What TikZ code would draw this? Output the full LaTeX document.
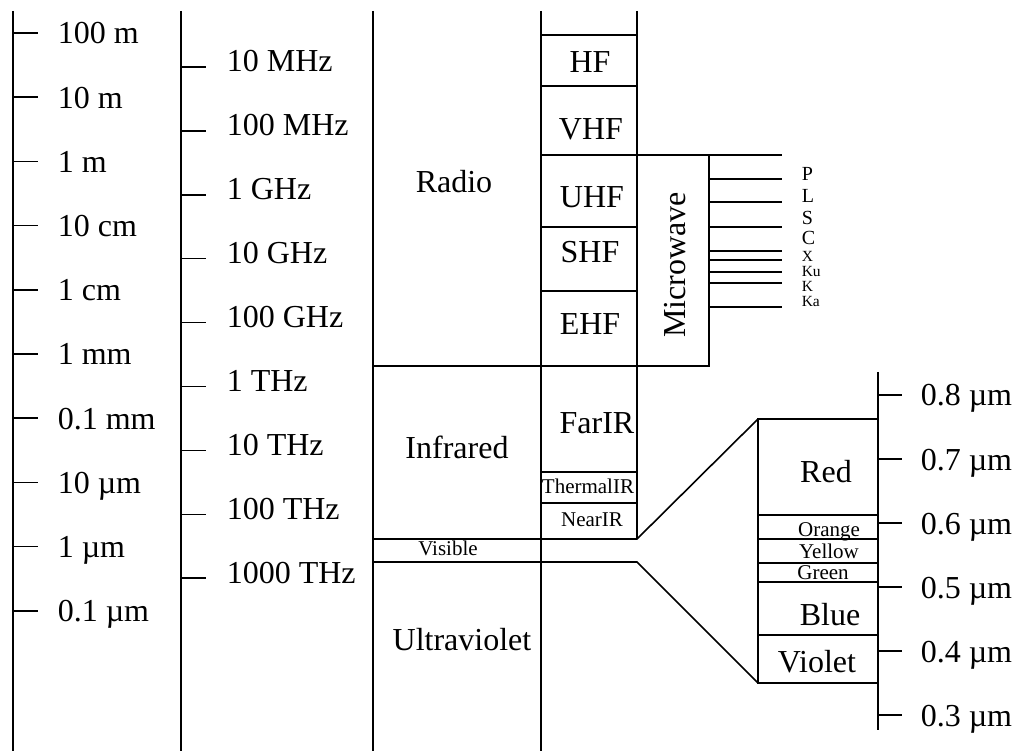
\documentclass[tikz,border=0pt]{standalone}
\usepackage{fontspec}
\setmainfont{Liberation Serif}
\begin{document}
\begin{tikzpicture}[
    x=1pt, y=-1pt, line width=1.6pt,
    big/.style={font=\fontsize{32}{36}\selectfont, inner sep=0pt, anchor=base},
    small/.style={font=\fontsize{21}{24}\selectfont, inner sep=0pt, anchor=base},
    bandlab/.style={font=\fontsize{20}{22}\selectfont, inner sep=0pt, anchor=base west},
    tinylab/.style={font=\fontsize{15.5}{18}\selectfont, inner sep=0pt, anchor=base west}
]
\useasboundingbox (0,0) rectangle (1018,751);
% wavelength axis
\draw (13,11) -- (13,751);
\foreach \lab [count=\i from 0] in {100 m,10 m,1 m,10 cm,1 cm,1 mm,0.1 mm,10 µm,1 µm,0.1 µm} {
    \pgfmathsetmacro\ty{33+64.2*\i}
    \draw (13,\ty) -- (38,\ty);
    \node[big, anchor=base west] (wl\i) at (57,\ty+11) {\lab};
}
% frequency axis
\draw (181,11) -- (181,751);
\foreach \lab [count=\i from 0] in {10 MHz,100 MHz,1 GHz,10 GHz,100 GHz,1 THz,10 THz,100 THz,1000 THz} {
    \pgfmathsetmacro\ty{67+63.9*\i}
    \draw (181,\ty) -- (206,\ty);
    \node[big, anchor=base west] (fq\i) at (226,\ty+5) {\lab};
}
% main columns
\draw (373,11) -- (373,751);
\draw (541,11) -- (541,751);
\draw (637,11) -- (637,539);
\draw (541,35) -- (637,35);
\draw (541,86) -- (637,86);
\draw (541,155) -- (782,155);
\draw (541,227) -- (637,227);
\draw (541,291) -- (637,291);
\draw (373,366) -- (709,366) -- (709,155);
\foreach \ty in {179,202,227,251,260,272,283,307}
    \draw (709,\ty) -- (782,\ty);
\draw (541,472) -- (637,472);
\draw (541,503) -- (637,503);
\draw (373,539) -- (637,539) -- (758,419);
\draw (373,562) -- (637,562) -- (758,683);
% visible zoom
\draw (878,419) -- (758,419) -- (758,683) -- (878,683);
\foreach \ty in {515,539,563,582,635}
    \draw (758,\ty) -- (878,\ty);
\draw (878,372) -- (878,730);
\foreach \lab [count=\i from 0] in {0.8 µm,0.7 µm,0.6 µm,0.5 µm,0.4 µm,0.3 µm} {
    \pgfmathsetmacro\ty{395+64*\i}
    \draw (878,\ty) -- (902,\ty);
    \node[big, anchor=base west] (vw\i) at (920,\ty+11) {\lab};
}
% region labels
\node[big] (radio) at (454,193) {Radio};
\node[big] (hf) at (590,73) {HF};
\node[big] (vhf) at (591,140) {VHF};
\node[big] (uhf) at (592,208) {UHF};
\node[big] (shf) at (590,263) {SHF};
\node[big] (ehf) at (590,335) {EHF};
\node[big, rotate=90, anchor=center] (micro) at (675,265) {Microwave};
\node[bandlab] (bp) at (801,181) {P};
\node[bandlab] (bl) at (801,203) {L};
\node[bandlab] (bs) at (801,225) {S};
\node[bandlab] (bc) at (801,245) {C};
\node[tinylab] (bx) at (801,262) {X};
\node[tinylab] (bku) at (801,277) {Ku};
\node[tinylab] (bk) at (801,292) {K};
\node[tinylab] (bka) at (801,307) {Ka};
\node[big] (ir) at (457,458) {Infrared};
\node[big] (farir) at (597,433) {FarIR};
\node[small] (thermir) at (588,493) {ThermalIR};
\node[small] (nearir) at (592,526) {NearIR};
\node[small] (vis) at (448,555) {Visible};
\node[big] (uv) at (462,650) {Ultraviolet};
\node[big] (red) at (826,482) {Red};
\node[small] (orange) at (829,536) {Orange};
\node[small] (yellow) at (829,558) {Yellow};
\node[small] (green) at (823,579) {Green};
\node[big] (blue) at (830,625) {Blue};
\node[big] (violet) at (817,672) {Violet};
\end{tikzpicture}
\end{document}
